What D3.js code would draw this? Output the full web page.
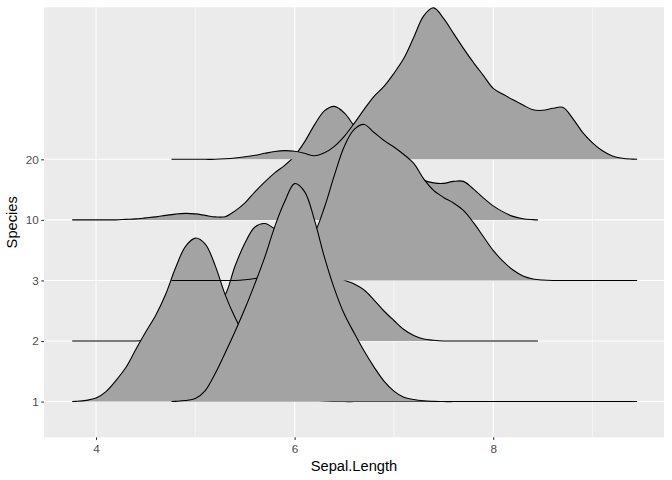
<!DOCTYPE html>
<html>
<head>
<meta charset="utf-8">
<script src="https://cdn.jsdelivr.net/npm/d3@7"></script>
<style>
  html, body { margin: 0; padding: 0; background: #ffffff; }
  svg { display: block; }
  text { font-family: "Liberation Sans", Arial, Helvetica, sans-serif; }
</style>
</head>
<body>
<svg id="chart" width="672" height="480"></svg>
<script>
// ---------------- data ----------------
const categories = ["1", "2", "3", "10", "20"];
const xTicks = [4, 6, 8];
const xMinor = [5, 7, 9];

// evaluation grids of the two layers (Sepal.Length and Sepal.Length + 1)
const gridA = [3.76, 3.8, 3.9, 4.0, 4.1, 4.2, 4.3, 4.4, 4.5, 4.6,
               4.7, 4.8, 4.9, 5.0, 5.1, 5.2, 5.3, 5.4, 5.5, 5.6,
               5.7, 5.8, 5.9, 6.0, 6.1, 6.2, 6.3, 6.4, 6.5, 6.6,
               6.7, 6.8, 6.9, 7.0, 7.1, 7.2, 7.3, 7.4, 7.5, 7.6,
               7.7, 7.8, 7.9, 8.0, 8.1, 8.2, 8.3, 8.4, 8.45];
const gridB = [4.76, 4.8, 4.9, 5.0, 5.1, 5.2, 5.3, 5.4, 5.5, 5.6,
               5.7, 5.8, 5.9, 6.0, 6.1, 6.2, 6.3, 6.4, 6.5, 6.6,
               6.7, 6.8, 6.9, 7.0, 7.1, 7.2, 7.3, 7.4, 7.5, 7.6,
               7.7, 7.8, 7.9, 8.0, 8.1, 8.2, 8.3, 8.4, 8.5, 8.6,
               8.7, 8.8, 8.9, 9.0, 9.1, 9.2, 9.3, 9.4, 9.45];

// layer 1 ridges (on gridA)
const ridgeA_1 = [0, 0.002, 0.012, 0.035, 0.10, 0.21, 0.34, 0.52, 0.695, 0.86,
                  1.07, 1.335, 1.55, 1.635, 1.575, 1.36, 1.07, 0.84, 0.655, 0.515,
                  0.38, 0.26, 0.155, 0.08, 0.032, 0.015, 0.006, 0.002, 0, 0,
                  0, 0, 0, 0, 0, 0, 0, 0, 0, 0,
                  0, 0, 0, 0, 0, 0, 0, 0, 0];
const ridgeA_2 = [0, 0, 0, 0, 0, 0, 0, 0, 0.005, 0.015,
                  0.03, 0.06, 0.105, 0.165, 0.24, 0.35, 0.46, 0.75, 0.98, 1.14,
                  1.175, 1.12, 1.05, 1.0, 0.945, 0.86, 0.76, 0.675, 0.61, 0.57,
                  0.51, 0.41, 0.30, 0.205, 0.115, 0.055, 0.02, 0.007, 0, 0,
                  0, 0, 0, 0, 0, 0, 0, 0, 0];
const ridgeA_10 = [0, 0, 0, 0, 0, 0, 0.005, 0.01, 0.02, 0.03,
                   0.045, 0.058, 0.065, 0.06, 0.045, 0.03, 0.032, 0.09, 0.17, 0.28,
                   0.38, 0.47, 0.545, 0.64, 0.78, 0.95, 1.09, 1.135, 1.07, 0.94,
                   0.83, 0.73, 0.63, 0.53, 0.485, 0.44, 0.395, 0.37, 0.365, 0.385,
                   0.385, 0.31, 0.22, 0.14, 0.08, 0.035, 0.012, 0.003, 0];

// layer 2 ridges (on gridB)
const ridgeB_1 = [0, 0.002, 0.01, 0.03, 0.11, 0.28, 0.485, 0.70, 0.93, 1.18,
                  1.445, 1.75, 2.0, 2.18, 2.10, 1.815, 1.445, 1.13, 0.875, 0.685,
                  0.505, 0.345, 0.205, 0.105, 0.043, 0.02, 0.008, 0.003, 0, 0,
                  0, 0, 0, 0, 0, 0, 0, 0, 0, 0,
                  0, 0, 0, 0, 0, 0, 0, 0, 0];
const ridgeB_3 = [0, 0, 0, 0, 0, 0, 0, 0, 0.007, 0.02,
                  0.04, 0.08, 0.14, 0.22, 0.32, 0.47, 0.73, 1.05, 1.34, 1.51,
                  1.56, 1.48, 1.40, 1.335, 1.26, 1.17, 1.015, 0.90, 0.83, 0.775,
                  0.70, 0.58, 0.44, 0.30, 0.19, 0.105, 0.045, 0.015, 0.004, 0,
                  0, 0, 0, 0, 0, 0, 0, 0, 0];
const ridgeB_20 = [0, 0, 0, 0, 0, 0, 0.005, 0.013, 0.025, 0.04,
                   0.06, 0.078, 0.087, 0.08, 0.06, 0.035, 0.065, 0.13, 0.23, 0.36,
                   0.50, 0.63, 0.73, 0.86, 1.01, 1.22, 1.435, 1.515, 1.41, 1.26,
                   1.11, 0.97, 0.84, 0.71, 0.65, 0.595, 0.543, 0.495, 0.49, 0.51,
                   0.52, 0.41, 0.27, 0.165, 0.085, 0.033, 0.01, 0.002, 0];

const ridgeScale = 1.651;   // ridge height (category units) per density unit

// drawing order: layer 1 back-to-front, then layer 2 back-to-front
const ridges = [
  { cat: "10", xs: gridA, d: ridgeA_10 },
  { cat: "2",  xs: gridA, d: ridgeA_2 },
  { cat: "1",  xs: gridA, d: ridgeA_1 },
  { cat: "20", xs: gridB, d: ridgeB_20 },
  { cat: "3",  xs: gridB, d: ridgeB_3 },
  { cat: "1",  xs: gridB, d: ridgeB_1 }
];

// ---------------- chart ----------------
const svg = d3.select("#chart");
const panel = { left: 44, right: 664, top: 7.3, bottom: 437.3 };

const x = d3.scaleLinear().domain([3.476, 9.72]).range([panel.left, panel.right]);
const y = d3.scaleLinear().domain([0.41, 7.51]).range([panel.bottom, panel.top]);
const catPos = d3.scaleOrdinal().domain(categories).range([1, 2, 3, 4, 5]);

svg.append("rect")
  .attr("x", panel.left).attr("y", panel.top)
  .attr("width", panel.right - panel.left).attr("height", panel.bottom - panel.top)
  .attr("fill", "#EBEBEB");

const grid = svg.append("g");
grid.selectAll(".xminor").data(xMinor).join("line")
  .attr("x1", d => x(d)).attr("x2", d => x(d))
  .attr("y1", panel.top).attr("y2", panel.bottom)
  .attr("stroke", "#ffffff").attr("stroke-width", 0.53);
grid.selectAll(".xmajor").data(xTicks).join("line")
  .attr("x1", d => x(d)).attr("x2", d => x(d))
  .attr("y1", panel.top).attr("y2", panel.bottom)
  .attr("stroke", "#ffffff").attr("stroke-width", 1.07);
grid.selectAll(".ymajor").data(categories).join("line")
  .attr("x1", panel.left).attr("x2", panel.right)
  .attr("y1", d => y(catPos(d))).attr("y2", d => y(catPos(d)))
  .attr("stroke", "#ffffff").attr("stroke-width", 1.07);

const curve = d3.curveCatmullRom.alpha(0.5);
const ridgeG = svg.append("g");
ridges.forEach(r => {
  const base = catPos(r.cat);
  const pts = r.xs.map((xv, i) => ({ x: xv, h: r.d[i] }));
  const yTop = p => Math.min(y(base), y(base + p.h * ridgeScale));
  const area = d3.area()
    .x(p => x(p.x))
    .y0(y(base))
    .y1(yTop)
    .curve(curve);
  const line = d3.line()
    .x(p => x(p.x))
    .y(yTop)
    .curve(curve);
  ridgeG.append("path").attr("d", area(pts)).attr("fill", "#A3A3A3");
  ridgeG.append("path").attr("d", line(pts))
    .attr("fill", "none").attr("stroke", "#000000").attr("stroke-width", 1.1)
    .attr("stroke-linejoin", "round");
});

// axes
const xAxis = svg.append("g")
  .attr("transform", `translate(0,${panel.bottom})`)
  .call(d3.axisBottom(x).tickValues(xTicks).tickFormat(d3.format("d")).tickSize(2.74).tickPadding(5));
const yAxis = svg.append("g")
  .attr("transform", `translate(${panel.left},0)`)
  .call(d3.axisLeft(d3.scaleLinear().domain(y.domain()).range(y.range()))
        .tickValues(categories.map(c => catPos(c)))
        .tickFormat((d, i) => categories[i])
        .tickSize(2.74).tickPadding(2.6));
[xAxis, yAxis].forEach(a => {
  a.select(".domain").remove();
  a.selectAll(".tick line").attr("stroke", "#333333").attr("stroke-width", 1.07);
  a.selectAll(".tick text").attr("fill", "#4D4D4D").attr("font-size", "11.73px")
    .attr("font-family", "Liberation Sans, Arial, Helvetica, sans-serif");
});

svg.append("text")
  .attr("x", (panel.left + panel.right) / 2).attr("y", 470.5)
  .attr("text-anchor", "middle").attr("font-size", "14.67px").attr("fill", "#000")
  .text("Sepal.Length");
svg.append("text")
  .attr("transform", `translate(17,${(panel.top + panel.bottom) / 2}) rotate(-90)`)
  .attr("text-anchor", "middle").attr("font-size", "14.67px").attr("fill", "#000")
  .text("Species");
</script>
</body>
</html>
